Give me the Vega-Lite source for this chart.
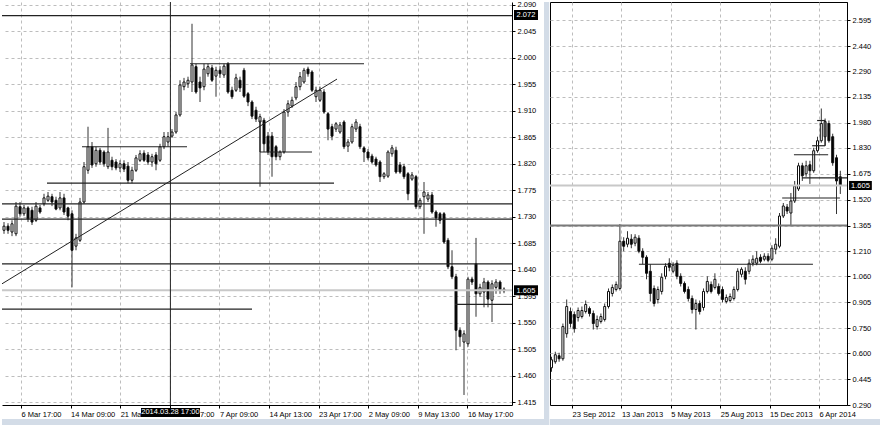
{
"$schema":"https://vega.github.io/schema/vega-lite/v6.json",
"background":"#ffffff",
"padding":0,
"spacing":38,
"bounds":"flush",
"datasets":{
"left":[
{"i":0,"o":1.707,"h":1.721,"l":1.701,"c":1.714},
{"i":1,"o":1.714,"h":1.719,"l":1.701,"c":1.707},
{"i":2,"o":1.704,"h":1.724,"l":1.697,"c":1.718},
{"i":3,"o":1.701,"h":1.755,"l":1.697,"c":1.748},
{"i":4,"o":1.747,"h":1.755,"l":1.730,"c":1.735},
{"i":5,"o":1.735,"h":1.750,"l":1.731,"c":1.745},
{"i":6,"o":1.745,"h":1.748,"l":1.721,"c":1.726},
{"i":7,"o":1.741,"h":1.747,"l":1.716,"c":1.721},
{"i":8,"o":1.724,"h":1.755,"l":1.721,"c":1.748},
{"i":9,"o":1.745,"h":1.750,"l":1.735,"c":1.738},
{"i":10,"o":1.752,"h":1.769,"l":1.748,"c":1.762},
{"i":11,"o":1.758,"h":1.772,"l":1.755,"c":1.765},
{"i":12,"o":1.764,"h":1.769,"l":1.748,"c":1.755},
{"i":13,"o":1.758,"h":1.764,"l":1.741,"c":1.743},
{"i":14,"o":1.745,"h":1.772,"l":1.741,"c":1.762},
{"i":15,"o":1.762,"h":1.769,"l":1.733,"c":1.738},
{"i":16,"o":1.745,"h":1.747,"l":1.724,"c":1.731},
{"i":17,"o":1.735,"h":1.741,"l":1.610,"c":1.673},
{"i":18,"o":1.680,"h":1.701,"l":1.673,"c":1.694},
{"i":19,"o":1.690,"h":1.762,"l":1.687,"c":1.755},
{"i":20,"o":1.755,"h":1.823,"l":1.752,"c":1.815},
{"i":21,"o":1.809,"h":1.883,"l":1.803,"c":1.849},
{"i":22,"o":1.849,"h":1.857,"l":1.813,"c":1.818},
{"i":23,"o":1.820,"h":1.849,"l":1.815,"c":1.843},
{"i":24,"o":1.843,"h":1.847,"l":1.818,"c":1.823},
{"i":25,"o":1.840,"h":1.843,"l":1.815,"c":1.820},
{"i":26,"o":1.815,"h":1.881,"l":1.811,"c":1.840},
{"i":27,"o":1.826,"h":1.832,"l":1.809,"c":1.815},
{"i":28,"o":1.823,"h":1.828,"l":1.809,"c":1.813},
{"i":29,"o":1.813,"h":1.826,"l":1.806,"c":1.820},
{"i":30,"o":1.820,"h":1.826,"l":1.806,"c":1.811},
{"i":31,"o":1.816,"h":1.823,"l":1.787,"c":1.792},
{"i":32,"o":1.792,"h":1.815,"l":1.787,"c":1.809},
{"i":33,"o":1.809,"h":1.835,"l":1.806,"c":1.830},
{"i":34,"o":1.826,"h":1.843,"l":1.823,"c":1.837},
{"i":35,"o":1.838,"h":1.843,"l":1.823,"c":1.826},
{"i":36,"o":1.835,"h":1.840,"l":1.818,"c":1.823},
{"i":37,"o":1.823,"h":1.837,"l":1.815,"c":1.832},
{"i":38,"o":1.835,"h":1.840,"l":1.809,"c":1.820},
{"i":39,"o":1.826,"h":1.854,"l":1.823,"c":1.849},
{"i":40,"o":1.849,"h":1.874,"l":1.845,"c":1.866},
{"i":41,"o":1.857,"h":1.874,"l":1.849,"c":1.866},
{"i":42,"o":1.867,"h":1.879,"l":1.864,"c":1.874},
{"i":43,"o":1.874,"h":1.908,"l":1.871,"c":1.903},
{"i":44,"o":1.903,"h":1.962,"l":1.900,"c":1.954},
{"i":45,"o":1.951,"h":1.966,"l":1.945,"c":1.959},
{"i":46,"o":1.956,"h":1.968,"l":1.949,"c":1.962},
{"i":47,"o":1.959,"h":2.058,"l":1.942,"c":1.988},
{"i":48,"o":1.985,"h":1.990,"l":1.939,"c":1.942},
{"i":49,"o":1.959,"h":1.968,"l":1.925,"c":1.949},
{"i":50,"o":1.951,"h":1.990,"l":1.945,"c":1.981},
{"i":51,"o":1.973,"h":1.990,"l":1.968,"c":1.985},
{"i":52,"o":1.983,"h":1.988,"l":1.959,"c":1.962},
{"i":53,"o":1.969,"h":1.985,"l":1.934,"c":1.979},
{"i":54,"o":1.979,"h":1.986,"l":1.966,"c":1.973},
{"i":55,"o":1.971,"h":1.990,"l":1.966,"c":1.986},
{"i":56,"o":1.990,"h":1.993,"l":1.939,"c":1.942},
{"i":57,"o":1.945,"h":1.951,"l":1.930,"c":1.934},
{"i":58,"o":1.945,"h":1.973,"l":1.942,"c":1.966},
{"i":59,"o":1.962,"h":1.968,"l":1.942,"c":1.949},
{"i":60,"o":1.979,"h":1.983,"l":1.932,"c":1.935},
{"i":61,"o":1.939,"h":1.942,"l":1.918,"c":1.925},
{"i":62,"o":1.925,"h":1.928,"l":1.896,"c":1.901},
{"i":63,"o":1.911,"h":1.917,"l":1.891,"c":1.896},
{"i":64,"o":1.891,"h":1.905,"l":1.781,"c":1.900},
{"i":65,"o":1.894,"h":1.898,"l":1.840,"c":1.854},
{"i":66,"o":1.867,"h":1.874,"l":1.835,"c":1.840},
{"i":67,"o":1.867,"h":1.874,"l":1.798,"c":1.832},
{"i":68,"o":1.849,"h":1.852,"l":1.826,"c":1.832},
{"i":69,"o":1.832,"h":1.843,"l":1.826,"c":1.840},
{"i":70,"o":1.840,"h":1.913,"l":1.837,"c":1.908},
{"i":71,"o":1.908,"h":1.928,"l":1.900,"c":1.922},
{"i":72,"o":1.918,"h":1.934,"l":1.915,"c":1.928},
{"i":73,"o":1.932,"h":1.959,"l":1.928,"c":1.951},
{"i":74,"o":1.951,"h":1.976,"l":1.945,"c":1.968},
{"i":75,"o":1.959,"h":1.983,"l":1.956,"c":1.979},
{"i":76,"o":1.981,"h":1.985,"l":1.968,"c":1.973},
{"i":77,"o":1.976,"h":1.979,"l":1.942,"c":1.945},
{"i":78,"o":1.934,"h":1.951,"l":1.925,"c":1.945},
{"i":79,"o":1.928,"h":1.951,"l":1.925,"c":1.945},
{"i":80,"o":1.942,"h":1.947,"l":1.905,"c":1.908},
{"i":81,"o":1.905,"h":1.908,"l":1.860,"c":1.879},
{"i":82,"o":1.883,"h":1.888,"l":1.860,"c":1.867},
{"i":83,"o":1.879,"h":1.891,"l":1.874,"c":1.888},
{"i":84,"o":1.874,"h":1.891,"l":1.871,"c":1.886},
{"i":85,"o":1.891,"h":1.894,"l":1.845,"c":1.849},
{"i":86,"o":1.850,"h":1.862,"l":1.840,"c":1.857},
{"i":87,"o":1.857,"h":1.888,"l":1.854,"c":1.883},
{"i":88,"o":1.879,"h":1.896,"l":1.874,"c":1.891},
{"i":89,"o":1.883,"h":1.888,"l":1.845,"c":1.849},
{"i":90,"o":1.847,"h":1.850,"l":1.823,"c":1.840},
{"i":91,"o":1.840,"h":1.845,"l":1.826,"c":1.830},
{"i":92,"o":1.833,"h":1.837,"l":1.820,"c":1.823},
{"i":93,"o":1.828,"h":1.832,"l":1.815,"c":1.818},
{"i":94,"o":1.823,"h":1.826,"l":1.789,"c":1.798},
{"i":95,"o":1.798,"h":1.806,"l":1.794,"c":1.803},
{"i":96,"o":1.799,"h":1.843,"l":1.796,"c":1.840},
{"i":97,"o":1.837,"h":1.852,"l":1.832,"c":1.847},
{"i":98,"o":1.843,"h":1.849,"l":1.803,"c":1.806},
{"i":99,"o":1.818,"h":1.823,"l":1.803,"c":1.806},
{"i":100,"o":1.815,"h":1.820,"l":1.794,"c":1.798},
{"i":101,"o":1.803,"h":1.806,"l":1.758,"c":1.769},
{"i":102,"o":1.794,"h":1.806,"l":1.791,"c":1.801},
{"i":103,"o":1.798,"h":1.801,"l":1.743,"c":1.747},
{"i":104,"o":1.747,"h":1.762,"l":1.743,"c":1.758},
{"i":105,"o":1.764,"h":1.789,"l":1.701,"c":1.772},
{"i":106,"o":1.760,"h":1.772,"l":1.755,"c":1.767},
{"i":107,"o":1.767,"h":1.772,"l":1.735,"c":1.738},
{"i":108,"o":1.738,"h":1.741,"l":1.713,"c":1.728},
{"i":109,"o":1.735,"h":1.738,"l":1.718,"c":1.724},
{"i":110,"o":1.735,"h":1.738,"l":1.684,"c":1.687},
{"i":111,"o":1.690,"h":1.694,"l":1.641,"c":1.645},
{"i":112,"o":1.645,"h":1.673,"l":1.624,"c":1.628},
{"i":113,"o":1.628,"h":1.633,"l":1.503,"c":1.537},
{"i":114,"o":1.537,"h":1.542,"l":1.509,"c":1.526},
{"i":115,"o":1.517,"h":1.537,"l":1.427,"c":1.531},
{"i":116,"o":1.514,"h":1.628,"l":1.509,"c":1.624},
{"i":117,"o":1.624,"h":1.628,"l":1.614,"c":1.619},
{"i":118,"o":1.650,"h":1.694,"l":1.560,"c":1.599},
{"i":119,"o":1.599,"h":1.616,"l":1.594,"c":1.610},
{"i":120,"o":1.602,"h":1.626,"l":1.576,"c":1.619},
{"i":121,"o":1.619,"h":1.622,"l":1.576,"c":1.590},
{"i":122,"o":1.588,"h":1.622,"l":1.551,"c":1.616},
{"i":123,"o":1.610,"h":1.624,"l":1.599,"c":1.619},
{"i":124,"o":1.619,"h":1.622,"l":1.599,"c":1.605},
{"i":125,"o":1.607,"h":1.610,"l":1.600,"c":1.604}
],
"leftSeg":[
{"a":-0.5,"b":127,"p":2.072,"q":2.072},
{"a":46.5,"b":90,"p":1.990,"q":1.990},
{"a":19.5,"b":45.75,"p":1.849,"q":1.849},
{"a":64,"b":77,"p":1.840,"q":1.840},
{"a":64,"b":64,"p":1.840,"q":1.894},
{"a":10.75,"b":82.5,"p":1.787,"q":1.787},
{"a":-0.5,"b":127,"p":1.752,"q":1.752},
{"a":-0.5,"b":127,"p":1.726,"q":1.726},
{"a":-0.5,"b":127,"p":1.650,"q":1.650},
{"a":-0.5,"b":62,"p":1.573,"q":1.573},
{"a":112.75,"b":127,"p":1.581,"q":1.581}
],
"leftPrice":[{"a":-0.5,"b":127,"p":1.605}],
"leftTrend":[{"i":-0.5,"p":1.616},{"i":83.25,"p":1.964}],
"leftCross":[{"i":41.6}],
"leftTags":[
{"a":127.5,"b":133.5,"p":2.0814,"q":2.0644,"m":130.5,"y":2.0725,"t":"2.072"},
{"a":127.5,"b":133.5,"p":1.6135,"q":1.5965,"m":130.5,"y":1.6045,"t":"1.605"},
{"a":34.25,"b":49,"p":1.4049,"q":1.3896,"m":41.6,"y":1.3973,"t":"2014.03.28 17:00"}
],
"leftFrame":[
{"a":135,"b":136.3,"p":2.095,"q":1.3726},
{"a":-0.5,"b":136.3,"p":1.3862,"q":1.3726}
],
"right":[
{"j":0,"o":0.513,"h":0.579,"l":0.489,"c":0.561},
{"j":1,"o":0.549,"h":0.609,"l":0.537,"c":0.591},
{"j":2,"o":0.585,"h":0.603,"l":0.549,"c":0.567},
{"j":3,"o":0.567,"h":0.778,"l":0.555,"c":0.760},
{"j":4,"o":0.717,"h":0.922,"l":0.693,"c":0.880},
{"j":5,"o":0.850,"h":0.874,"l":0.754,"c":0.778},
{"j":6,"o":0.832,"h":0.850,"l":0.723,"c":0.747},
{"j":7,"o":0.814,"h":0.874,"l":0.790,"c":0.856},
{"j":8,"o":0.820,"h":0.880,"l":0.808,"c":0.856},
{"j":9,"o":0.850,"h":0.916,"l":0.838,"c":0.892},
{"j":10,"o":0.868,"h":0.880,"l":0.820,"c":0.838},
{"j":11,"o":0.838,"h":0.856,"l":0.742,"c":0.778},
{"j":12,"o":0.760,"h":0.826,"l":0.742,"c":0.802},
{"j":13,"o":0.790,"h":0.838,"l":0.778,"c":0.820},
{"j":14,"o":0.802,"h":0.898,"l":0.790,"c":0.880},
{"j":15,"o":0.880,"h":0.988,"l":0.868,"c":0.970},
{"j":16,"o":0.958,"h":1.012,"l":0.940,"c":0.994},
{"j":17,"o":0.982,"h":1.030,"l":0.970,"c":1.012},
{"j":18,"o":0.988,"h":1.374,"l":0.976,"c":1.271},
{"j":19,"o":1.271,"h":1.295,"l":1.211,"c":1.241},
{"j":20,"o":1.253,"h":1.331,"l":1.235,"c":1.289},
{"j":21,"o":1.283,"h":1.313,"l":1.229,"c":1.253},
{"j":22,"o":1.259,"h":1.313,"l":1.241,"c":1.295},
{"j":23,"o":1.289,"h":1.307,"l":1.199,"c":1.211},
{"j":24,"o":1.211,"h":1.229,"l":1.133,"c":1.175},
{"j":25,"o":1.175,"h":1.187,"l":1.043,"c":1.079},
{"j":26,"o":1.091,"h":1.133,"l":0.910,"c":0.958},
{"j":27,"o":0.988,"h":1.006,"l":0.880,"c":0.898},
{"j":28,"o":0.922,"h":1.000,"l":0.898,"c":0.982},
{"j":29,"o":0.970,"h":1.079,"l":0.952,"c":1.055},
{"j":30,"o":1.061,"h":1.139,"l":1.043,"c":1.121},
{"j":31,"o":1.139,"h":1.169,"l":1.091,"c":1.115},
{"j":32,"o":1.091,"h":1.145,"l":1.079,"c":1.127},
{"j":33,"o":1.139,"h":1.157,"l":1.043,"c":1.061},
{"j":34,"o":1.061,"h":1.079,"l":1.000,"c":1.018},
{"j":35,"o":1.018,"h":1.030,"l":0.958,"c":0.970},
{"j":36,"o":0.982,"h":1.000,"l":0.910,"c":0.928},
{"j":37,"o":0.928,"h":0.946,"l":0.838,"c":0.862},
{"j":38,"o":0.862,"h":0.922,"l":0.742,"c":0.898},
{"j":39,"o":0.898,"h":0.916,"l":0.832,"c":0.850},
{"j":40,"o":0.874,"h":0.988,"l":0.856,"c":0.970},
{"j":41,"o":0.970,"h":1.061,"l":0.958,"c":1.030},
{"j":42,"o":1.012,"h":1.030,"l":0.958,"c":0.970},
{"j":43,"o":0.994,"h":1.079,"l":0.982,"c":1.043},
{"j":44,"o":1.000,"h":1.018,"l":0.946,"c":0.958},
{"j":45,"o":0.982,"h":1.000,"l":0.904,"c":0.922},
{"j":46,"o":0.910,"h":0.952,"l":0.898,"c":0.934},
{"j":47,"o":0.916,"h":0.958,"l":0.904,"c":0.940},
{"j":48,"o":0.928,"h":1.000,"l":0.916,"c":0.982},
{"j":49,"o":0.982,"h":1.109,"l":0.970,"c":1.091},
{"j":50,"o":1.073,"h":1.115,"l":1.055,"c":1.103},
{"j":51,"o":1.091,"h":1.115,"l":1.012,"c":1.043},
{"j":52,"o":1.091,"h":1.163,"l":1.073,"c":1.139},
{"j":53,"o":1.139,"h":1.187,"l":1.121,"c":1.163},
{"j":54,"o":1.139,"h":1.211,"l":1.127,"c":1.169},
{"j":55,"o":1.175,"h":1.193,"l":1.139,"c":1.151},
{"j":56,"o":1.163,"h":1.199,"l":1.151,"c":1.181},
{"j":57,"o":1.181,"h":1.199,"l":1.145,"c":1.157},
{"j":58,"o":1.163,"h":1.247,"l":1.151,"c":1.229},
{"j":59,"o":1.223,"h":1.289,"l":1.193,"c":1.253},
{"j":60,"o":1.241,"h":1.440,"l":1.229,"c":1.422},
{"j":61,"o":1.422,"h":1.500,"l":1.410,"c":1.482},
{"j":62,"o":1.476,"h":1.494,"l":1.434,"c":1.452},
{"j":63,"o":1.440,"h":1.560,"l":1.362,"c":1.512},
{"j":64,"o":1.512,"h":1.632,"l":1.500,"c":1.602},
{"j":65,"o":1.584,"h":1.741,"l":1.572,"c":1.723},
{"j":66,"o":1.723,"h":1.741,"l":1.632,"c":1.663},
{"j":67,"o":1.675,"h":1.753,"l":1.657,"c":1.723},
{"j":68,"o":1.729,"h":1.753,"l":1.614,"c":1.693},
{"j":69,"o":1.693,"h":1.831,"l":1.681,"c":1.813},
{"j":70,"o":1.813,"h":1.897,"l":1.801,"c":1.873},
{"j":71,"o":1.873,"h":2.066,"l":1.861,"c":1.976},
{"j":72,"o":1.897,"h":2.006,"l":1.843,"c":1.988},
{"j":73,"o":1.976,"h":1.994,"l":1.861,"c":1.873},
{"j":74,"o":1.897,"h":1.915,"l":1.723,"c":1.741},
{"j":75,"o":1.771,"h":1.789,"l":1.434,"c":1.632},
{"j":76,"o":1.657,"h":1.693,"l":1.554,"c":1.608}
],
"rightSeg":[
{"a":23.0,"b":68.8,"p":1.133,"q":1.133},
{"a":65.9,"b":77.763,"p":1.650,"q":1.650},
{"a":60.7,"b":75.9,"p":1.530,"q":1.530},
{"a":63.8,"b":72.8,"p":1.789,"q":1.789},
{"a":69.9,"b":72.0,"p":1.994,"q":1.994},
{"a":72.0,"b":72.0,"p":1.994,"q":1.843},
{"a":68.6,"b":72.0,"p":1.843,"q":1.843}
],
"rightGray":[{"a":-0.395,"b":77.763,"p":1.365}],
"rightPrice":[{"a":-0.395,"b":77.763,"p":1.605}],
"rightTags":[{"a":78.3,"b":84.3,"p":1.632,"q":1.578,"m":81.3,"y":1.604,"t":"1.605"}],
"rightFrame":[{"a":-0.395,"b":87,"p":0.2061,"q":0.158}]
},
"hconcat":[
{
"width":510,"height":403,
"layer":[
{"data":{"name":"leftFrame"},"mark":{"type":"rect","color":"#d3dce7","opacity":1},
 "encoding":{
  "x":{"field":"a","type":"quantitative","title":null,"scale":{"domain":[-0.5,127],"nice":false,"zero":false,"padding":0}},
  "x2":{"field":"b"},
  "y":{"field":"p","type":"quantitative","title":null,"scale":{"domain":[1.41,2.095],"nice":false,"zero":false,"padding":0}},
  "y2":{"field":"q"}}},
{"data":{"name":"left"},"mark":{"type":"rule","color":"#333333","strokeWidth":1},
 "encoding":{
  "x":{"field":"i","type":"quantitative","title":null,"scale":{"domain":[-0.5,127],"nice":false,"zero":false,"padding":0},
   "axis":{"orient":"bottom","title":null,"tickCount":40,"values":[4.25,16.65,29.05,41.45,53.85,66.25,78.65,91.05,103.45,115.85],"labelAlign":"left","labelBaseline":"top","labelOverlap":false,"labelFlush":false,"labelBound":false,"grid":true,
   "labelExpr":"datum.value < 10 ? '6 Mar 17:00' : datum.value < 22 ? '14 Mar 09:00' : datum.value < 35 ? '21 Mar 13:00' : datum.value < 47 ? '28 Mar 17:00' : datum.value < 60 ? '7 Apr 09:00' : datum.value < 72 ? '14 Apr 13:00' : datum.value < 85 ? '23 Apr 17:00' : datum.value < 97 ? '2 May 09:00' : datum.value < 110 ? '9 May 13:00' : '16 May 17:00'"}},
  "y":{"field":"l","type":"quantitative","title":null,"scale":{"domain":[1.41,2.095],"nice":false,"zero":false,"padding":0},
   "axis":{"orient":"right","title":null,"tickCount":40,"values":[2.09,2.045,2.0,1.955,1.91,1.865,1.82,1.775,1.73,1.685,1.64,1.595,1.55,1.505,1.46,1.415],"format":".3f","labelAlign":"left","labelBaseline":"middle","labelOverlap":false,"labelFlush":false,"labelBound":false,"grid":true}},
  "y2":{"field":"h"}}},
{"data":{"name":"left"},"mark":{"type":"bar","size":2,"stroke":"#111111","strokeWidth":1},
 "encoding":{
  "x":{"field":"i","type":"quantitative","title":null,"scale":{"domain":[-0.5,127],"nice":false,"zero":false,"padding":0}},
  "y":{"field":"o","type":"quantitative","title":null,"scale":{"domain":[1.41,2.095],"nice":false,"zero":false,"padding":0}},
  "y2":{"field":"c"},
  "fill":{"condition":{"test":"datum.c >= datum.o","value":"#ffffff"},"value":"#000000"}}},
{"data":{"name":"leftPrice"},"mark":{"type":"rule","color":"#c8c8c8","strokeWidth":2},
 "encoding":{
  "x":{"field":"a","type":"quantitative","title":null,"scale":{"domain":[-0.5,127],"nice":false,"zero":false,"padding":0}},
  "x2":{"field":"b"},
  "y":{"field":"p","type":"quantitative","title":null,"scale":{"domain":[1.41,2.095],"nice":false,"zero":false,"padding":0}}}},
{"data":{"name":"leftSeg"},"mark":{"type":"rule","color":"#222222","strokeWidth":1.2},
 "encoding":{
  "x":{"field":"a","type":"quantitative","title":null,"scale":{"domain":[-0.5,127],"nice":false,"zero":false,"padding":0}},
  "x2":{"field":"b"},
  "y":{"field":"p","type":"quantitative","title":null,"scale":{"domain":[1.41,2.095],"nice":false,"zero":false,"padding":0}},
  "y2":{"field":"q"}}},
{"data":{"name":"leftTrend"},"mark":{"type":"line","color":"#222222","strokeWidth":1},
 "encoding":{
  "x":{"field":"i","type":"quantitative","title":null,"scale":{"domain":[-0.5,127],"nice":false,"zero":false,"padding":0}},
  "y":{"field":"p","type":"quantitative","title":null,"scale":{"domain":[1.41,2.095],"nice":false,"zero":false,"padding":0}}}},
{"data":{"name":"leftCross"},"mark":{"type":"rule","color":"#222222","strokeWidth":1},
 "encoding":{
  "x":{"field":"i","type":"quantitative","title":null,"scale":{"domain":[-0.5,127],"nice":false,"zero":false,"padding":0}}}},
{"data":{"name":"leftTags"},"mark":{"type":"rect","color":"#000000"},
 "encoding":{
  "x":{"field":"a","type":"quantitative","title":null,"scale":{"domain":[-0.5,127],"nice":false,"zero":false,"padding":0}},
  "x2":{"field":"b"},
  "y":{"field":"p","type":"quantitative","title":null,"scale":{"domain":[1.41,2.095],"nice":false,"zero":false,"padding":0}},
  "y2":{"field":"q"}}},
{"data":{"name":"leftTags"},"mark":{"type":"text","color":"#ffffff","font":"Liberation Sans","fontSize":7.5,"align":"center","baseline":"middle"},
 "encoding":{
  "x":{"field":"m","type":"quantitative","title":null,"scale":{"domain":[-0.5,127],"nice":false,"zero":false,"padding":0}},
  "y":{"field":"y","type":"quantitative","title":null,"scale":{"domain":[1.41,2.095],"nice":false,"zero":false,"padding":0}},
  "text":{"field":"t"}}}
]
},
{
"width":297,"height":403,
"view":{"stroke":"#000000","strokeWidth":1},
"layer":[
{"data":{"name":"rightFrame"},"mark":{"type":"rect","color":"#d3dce7","opacity":1},
 "encoding":{
  "x":{"field":"a","type":"quantitative","title":null,"scale":{"domain":[-0.395,77.763],"nice":false,"zero":false,"padding":0}},
  "x2":{"field":"b"},
  "y":{"field":"p","type":"quantitative","title":null,"scale":{"domain":[0.29,2.704],"nice":false,"zero":false,"padding":0}},
  "y2":{"field":"q"}}},
{"data":{"name":"right"},"mark":{"type":"rule","color":"#333333","strokeWidth":1},
 "encoding":{
  "x":{"field":"j","type":"quantitative","title":null,"scale":{"domain":[-0.395,77.763],"nice":false,"zero":false,"padding":0},
   "axis":{"orient":"bottom","title":null,"tickCount":40,"values":[5.4,18.4,31.4,44.4,57.4,70.4],"labelAlign":"left","labelBaseline":"top","labelOverlap":false,"labelFlush":false,"labelBound":false,"grid":true,
   "labelExpr":"datum.value < 10 ? '23 Sep 2012' : datum.value < 25 ? '13 Jan 2013' : datum.value < 38 ? '5 May 2013' : datum.value < 50 ? '25 Aug 2013' : datum.value < 63 ? '15 Dec 2013' : '6 Apr 2014'"}},
  "y":{"field":"l","type":"quantitative","title":null,"scale":{"domain":[0.29,2.704],"nice":false,"zero":false,"padding":0},
   "axis":{"orient":"right","title":null,"tickCount":40,"values":[2.595,2.44,2.29,2.135,1.98,1.83,1.675,1.52,1.365,1.21,1.06,0.905,0.75,0.6,0.445,0.29],"format":".3f","labelAlign":"left","labelBaseline":"middle","labelOverlap":false,"labelFlush":false,"labelBound":false,"grid":true}},
  "y2":{"field":"h"}}},
{"data":{"name":"right"},"mark":{"type":"bar","size":2,"stroke":"#111111","strokeWidth":1},
 "encoding":{
  "x":{"field":"j","type":"quantitative","title":null,"scale":{"domain":[-0.395,77.763],"nice":false,"zero":false,"padding":0}},
  "y":{"field":"o","type":"quantitative","title":null,"scale":{"domain":[0.29,2.704],"nice":false,"zero":false,"padding":0}},
  "y2":{"field":"c"},
  "fill":{"condition":{"test":"datum.c >= datum.o","value":"#ffffff"},"value":"#000000"}}},
{"data":{"name":"rightPrice"},"mark":{"type":"rule","color":"#c8c8c8","strokeWidth":2},
 "encoding":{
  "x":{"field":"a","type":"quantitative","title":null,"scale":{"domain":[-0.395,77.763],"nice":false,"zero":false,"padding":0}},
  "x2":{"field":"b"},
  "y":{"field":"p","type":"quantitative","title":null,"scale":{"domain":[0.29,2.704],"nice":false,"zero":false,"padding":0}}}},
{"data":{"name":"rightGray"},"mark":{"type":"rule","color":"#7a7a7a","strokeWidth":2},
 "encoding":{
  "x":{"field":"a","type":"quantitative","title":null,"scale":{"domain":[-0.395,77.763],"nice":false,"zero":false,"padding":0}},
  "x2":{"field":"b"},
  "y":{"field":"p","type":"quantitative","title":null,"scale":{"domain":[0.29,2.704],"nice":false,"zero":false,"padding":0}}}},
{"data":{"name":"rightSeg"},"mark":{"type":"rule","color":"#222222","strokeWidth":1.2},
 "encoding":{
  "x":{"field":"a","type":"quantitative","title":null,"scale":{"domain":[-0.395,77.763],"nice":false,"zero":false,"padding":0}},
  "x2":{"field":"b"},
  "y":{"field":"p","type":"quantitative","title":null,"scale":{"domain":[0.29,2.704],"nice":false,"zero":false,"padding":0}},
  "y2":{"field":"q"}}},
{"data":{"name":"rightTags"},"mark":{"type":"rect","color":"#000000"},
 "encoding":{
  "x":{"field":"a","type":"quantitative","title":null,"scale":{"domain":[-0.395,77.763],"nice":false,"zero":false,"padding":0}},
  "x2":{"field":"b"},
  "y":{"field":"p","type":"quantitative","title":null,"scale":{"domain":[0.29,2.704],"nice":false,"zero":false,"padding":0}},
  "y2":{"field":"q"}}},
{"data":{"name":"rightTags"},"mark":{"type":"text","color":"#ffffff","font":"Liberation Sans","fontSize":7.5,"align":"center","baseline":"middle"},
 "encoding":{
  "x":{"field":"m","type":"quantitative","title":null,"scale":{"domain":[-0.395,77.763],"nice":false,"zero":false,"padding":0}},
  "y":{"field":"y","type":"quantitative","title":null,"scale":{"domain":[0.29,2.704],"nice":false,"zero":false,"padding":0}},
  "text":{"field":"t"}}}
]
}
],
"config":{
 "view":{"stroke":null},
 "axis":{"labelFont":"Liberation Sans","labelFontSize":7.5,"labelColor":"#000000","domainColor":"#000000","domainWidth":1,"tickColor":"#000000","tickSize":3,"labelPadding":2,"gridColor":"#bdbdbd","gridDash":[3,3],"gridWidth":1,"zindex":0,"labelOverlap":false,"labelBound":false,"labelFlush":false}
}
}
